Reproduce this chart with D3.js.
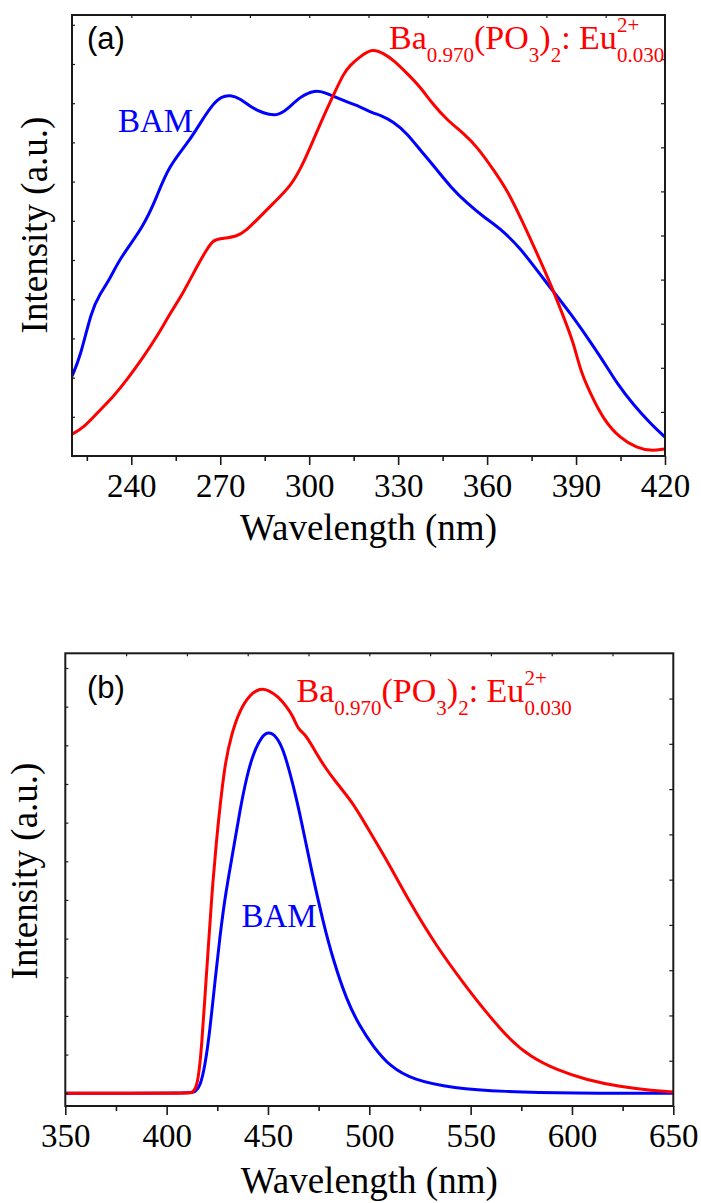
<!DOCTYPE html>
<html>
<head>
<meta charset="utf-8">
<script src="https://cdn.jsdelivr.net/npm/d3@7"></script>
<style>
  html, body { margin: 0; padding: 0; background: #fff; }
  svg { display: block; }
</style>
</head>
<body>
<script>
// ---- (a) excitation spectra ----
const bamExcWl = [220, 222.7, 226.6, 229.4, 232.8, 236.2, 244.1, 248.6, 252.5, 259.8, 263.2, 267.7, 270.5, 273.3, 276.7, 280.1, 284.6, 289.1, 292.5, 296.9, 302.0, 305.4, 308.2, 313.8, 317.2, 321.7, 323.9, 328.4, 333.0, 337.4, 343.1, 347.6, 353.2, 358.8, 364.4, 371.2, 376.8, 382.4, 388.1, 393.7, 399.3, 403.8, 409.4, 415.1, 420];
const bamExcI  = [2.04, 2.50, 3.72, 4.13, 4.52, 5.05, 5.85, 6.61, 7.38, 8.06, 8.49, 9.00, 9.17, 9.21, 9.12, 8.91, 8.74, 8.67, 8.83, 9.17, 9.34, 9.27, 9.17, 9.00, 8.91, 8.74, 8.70, 8.53, 8.23, 7.81, 7.30, 6.87, 6.45, 6.10, 5.81, 5.30, 4.74, 4.19, 3.64, 3.04, 2.41, 1.85, 1.30, 0.83, 0.48];

const phosExcWl = [220, 223.8, 229.4, 233.9, 238.5, 244.1, 248.6, 253.1, 257.6, 262.1, 265.5, 267.7, 270.0, 275.6, 279.0, 282.3, 287.9, 293.6, 297.5, 301.4, 304.8, 308.2, 311.6, 313.8, 317.2, 321.2, 325.1, 328.4, 333.0, 337.4, 341.4, 346.5, 352.1, 356.6, 362.2, 366.7, 371.2, 376.3, 381.3, 385.8, 389.2, 391.4, 394.8, 399.3, 404.9, 410.6, 415.1, 420];
const phosExcI  = [0.56, 0.71, 1.17, 1.51, 1.94, 2.53, 3.04, 3.64, 4.17, 4.83, 5.28, 5.51, 5.55, 5.59, 5.77, 6.02, 6.45, 6.87, 7.38, 8.06, 8.66, 9.21, 9.76, 9.97, 10.19, 10.40, 10.27, 10.10, 9.76, 9.42, 9.00, 8.57, 8.23, 7.89, 7.30, 6.79, 6.10, 5.26, 4.41, 3.55, 2.88, 2.19, 1.60, 0.92, 0.45, 0.20, 0.13, 0.18];

// ---- (b) emission spectra ----
const bamEmWl = [350, 412, 414.0, 416.5, 418.9, 421.4, 423.9, 426.3, 428.8, 432.9, 436.2, 439.5, 442.8, 446.9, 450.2, 454.3, 457.6, 460.9, 464.2, 467.4, 470.7, 477.3, 482.2, 488.8, 495.4, 501.9, 510.2, 521.7, 541.4, 566.1, 599.0, 650];
const bamEmI  = [0, 0, 0.03, 0.17, 0.69, 1.64, 2.93, 4.05, 5.09, 6.29, 7.33, 8.19, 8.80, 9.23, 9.36, 9.23, 8.88, 8.28, 7.59, 6.81, 5.95, 4.40, 3.45, 2.41, 1.72, 1.21, 0.69, 0.34, 0.13, 0.04, 0, 0];

const phosEmWl = [350, 411, 412.4, 414.0, 415.6, 417.3, 418.9, 420.6, 422.2, 424.7, 426.3, 428.8, 432.1, 436.2, 441.1, 446.1, 450.2, 455.1, 459.2, 462.5, 465.0, 468.3, 472.4, 477.3, 483.9, 492.1, 498.7, 508.6, 520.1, 533.3, 546.4, 558.0, 569.4, 579.3, 592.5, 607.3, 623.7, 640.1, 650];
const phosEmI  = [0, 0, 0.01, 0.085, 0.34, 1.21, 2.50, 3.79, 5.09, 6.60, 7.40, 8.54, 9.31, 9.92, 10.31, 10.48, 10.43, 10.26, 10.00, 9.74, 9.40, 9.30, 8.93, 8.49, 8.02, 7.50, 6.90, 6.04, 4.92, 3.79, 2.85, 2.07, 1.38, 0.95, 0.60, 0.34, 0.17, 0.07, 0.03];

// ---- axis ticks ----
const aMajorTicks = [240, 270, 300, 330, 360, 390, 420];
const aMinorTicks = [225, 255, 285, 315, 345, 375, 405];
const aTopTicks   = [240, 260, 280, 300, 320, 340, 360, 380, 400];
const bMajorTicks = [350, 400, 450, 500, 550, 600, 650];
const bMinorTicks = [375, 425, 475, 525, 575, 625];
const bTopTicks   = [380, 410, 440, 470, 500, 530, 560, 590, 620];
const leftTicks   = [0, 1, 2, 3, 4, 5, 6, 7, 8, 9, 10, 11];
const rightTicks  = [1, 2, 3, 4, 5, 6, 7, 8, 9];

const xTitle = "Wavelength (nm)";
const yTitle = "Intensity (a.u.)";
const bamName = "BAM";

const RED = "#ff0000", BLUE = "#0000ff", AXIS = "#1a1a1a";
const SERIF = "'Liberation Serif', 'Times New Roman', serif";
const SANS = "'Liberation Sans', Arial, sans-serif";

const svg = d3.select("body").append("svg").attr("width", 701).attr("height", 1203);

function panel(cfg) {
  const g = svg.append("g");
  const x = d3.scaleLinear().domain(cfg.xDomain).range([cfg.left, cfg.right]);
  const yL = d3.scaleLinear().domain(cfg.yDomain).range([cfg.bottom, cfg.top]);
  const yR = d3.scaleLinear().domain([0, 10]).range([cfg.bottom, cfg.top]);

  const line = d3.line()
    .x(d => x(d[0])).y(d => yL(d[1]))
    .curve(d3.curveBasis);

  const clipId = "clip" + cfg.id;
  g.append("clipPath").attr("id", clipId).append("rect")
    .attr("x", cfg.left).attr("y", cfg.top)
    .attr("width", cfg.right - cfg.left).attr("height", cfg.bottom - cfg.top);

  const curves = g.append("g").attr("clip-path", `url(#${clipId})`);
  cfg.series.forEach(s => {
    curves.append("path")
      .datum(d3.zip(s.wl, s.val))
      .attr("d", line)
      .attr("fill", "none")
      .attr("stroke", s.color)
      .attr("stroke-width", 3)
      .attr("stroke-linejoin", "round");
  });

  // bottom axis: outward ticks with labels
  const bottom = g.append("g").attr("transform", `translate(0,${cfg.bottom})`);
  bottom.call(d3.axisBottom(x).tickValues(cfg.major).tickSize(9).tickPadding(6).tickFormat(d3.format("d")));
  bottom.append("g").call(d3.axisBottom(x).tickValues(cfg.minor).tickSize(5).tickFormat(""));
  bottom.selectAll(".domain").remove();
  bottom.selectAll("line").attr("stroke", AXIS).attr("stroke-width", 1.6);
  bottom.attr("font-family", SERIF).attr("font-size", 33);
  bottom.selectAll("text")
    .attr("fill", "#000").attr("y", 40.7).attr("dy", null)
    .style("font-family", SERIF).style("font-size", "33px");

  // top axis: small inward ticks
  const topAx = g.append("g").attr("transform", `translate(0,${cfg.top})`);
  topAx.call(d3.axisBottom(x).tickValues(cfg.topTicks).tickSize(3).tickFormat(""));
  topAx.selectAll(".domain").remove();
  topAx.selectAll("line").attr("stroke", AXIS).attr("stroke-width", 1.2);

  // left axis: small inward ticks
  const leftAx = g.append("g").attr("transform", `translate(${cfg.left},0)`);
  leftAx.call(d3.axisRight(yL).tickValues(leftTicks).tickSize(3).tickFormat(""));
  leftAx.selectAll(".domain").remove();
  leftAx.selectAll("line").attr("stroke", AXIS).attr("stroke-width", 1.2);

  // right axis: small inward ticks
  const rightAx = g.append("g").attr("transform", `translate(${cfg.right},0)`);
  rightAx.call(d3.axisLeft(yR).tickValues(rightTicks).tickSize(4).tickFormat(""));
  rightAx.selectAll(".domain").remove();
  rightAx.selectAll("line").attr("stroke", AXIS).attr("stroke-width", 1.2);

  // frame
  g.append("rect")
    .attr("x", cfg.left).attr("y", cfg.top)
    .attr("width", cfg.right - cfg.left).attr("height", cfg.bottom - cfg.top)
    .attr("fill", "none").attr("stroke", AXIS).attr("stroke-width", 2);

  // axis titles
  g.append("text")
    .attr("x", (cfg.left + cfg.right) / 2).attr("y", cfg.xTitleY)
    .attr("text-anchor", "middle")
    .style("font-family", SERIF).style("font-size", "37px").attr("fill", "#000")
    .text(xTitle);
  g.append("text")
    .attr("transform", `translate(${cfg.yTitleX},${cfg.yTitleCY}) rotate(-90)`)
    .attr("text-anchor", "middle")
    .style("font-family", SERIF).style("font-size", "37px").attr("fill", "#000")
    .text(yTitle);

  // panel letter
  g.append("text")
    .attr("x", cfg.letterX).attr("y", cfg.letterY)
    .style("font-family", SANS).style("font-size", "31px").attr("fill", "#000")
    .text(cfg.letter);

  // BAM label
  g.append("text")
    .attr("x", cfg.bamX).attr("y", cfg.bamY)
    .style("font-family", SERIF).style("font-size", "33px").attr("fill", BLUE)
    .text(bamName);

  // phosphor formula label: Ba0.970(PO3)2: Eu with stacked 2+ / 0.030
  const fx = cfg.formX, fy = cfg.formY, SUB = 13, SUP = -17;
  const ft = g.append("text")
    .attr("x", fx).attr("y", fy)
    .style("font-family", SERIF).style("font-size", "34px").attr("fill", RED);
  const parts = [["Ba", 0], ["0.970", SUB], ["(PO", 0], ["3", SUB], [")", 0], ["2", SUB], [": Eu", 0]];
  parts.forEach(([s, off]) => {
    const ts = ft.append("tspan").attr("y", fy + off).text(s);
    if (off) ts.style("font-size", "21px");
  });
  const endX = fx + ft.node().getComputedTextLength();
  g.append("text").attr("x", endX).attr("y", fy + SUP)
    .style("font-family", SERIF).style("font-size", "21px").attr("fill", RED).text("2+");
  g.append("text").attr("x", endX).attr("y", fy + SUB)
    .style("font-family", SERIF).style("font-size", "21px").attr("fill", RED).text("0.030");
}

panel({
  id: "a", letter: "(a)",
  left: 72, right: 665, top: 15, bottom: 456,
  xDomain: [220, 420], yDomain: [0, 11.25],
  major: aMajorTicks, minor: aMinorTicks, topTicks: aTopTicks,
  series: [
    { wl: bamExcWl, val: bamExcI, color: BLUE },
    { wl: phosExcWl, val: phosExcI, color: RED }
  ],
  xTitleY: 540, yTitleX: 47, yTitleCY: 225,
  letterX: 87, letterY: 49,
  bamX: 118, bamY: 131.5,
  formX: 389, formY: 49
});

panel({
  id: "b", letter: "(b)",
  left: 65.3, right: 673.3, top: 653.3, bottom: 1106,
  xDomain: [350, 650], yDomain: [-0.33, 11.38],
  major: bMajorTicks, minor: bMinorTicks, topTicks: bTopTicks,
  series: [
    { wl: bamEmWl, val: bamEmI, color: BLUE },
    { wl: phosEmWl, val: phosEmI, color: RED }
  ],
  xTitleY: 1193, yTitleX: 37, yTitleCY: 871,
  letterX: 87, letterY: 698,
  bamX: 241.5, bamY: 926.5,
  formX: 296.5, formY: 701.5
});
</script>
</body>
</html>
